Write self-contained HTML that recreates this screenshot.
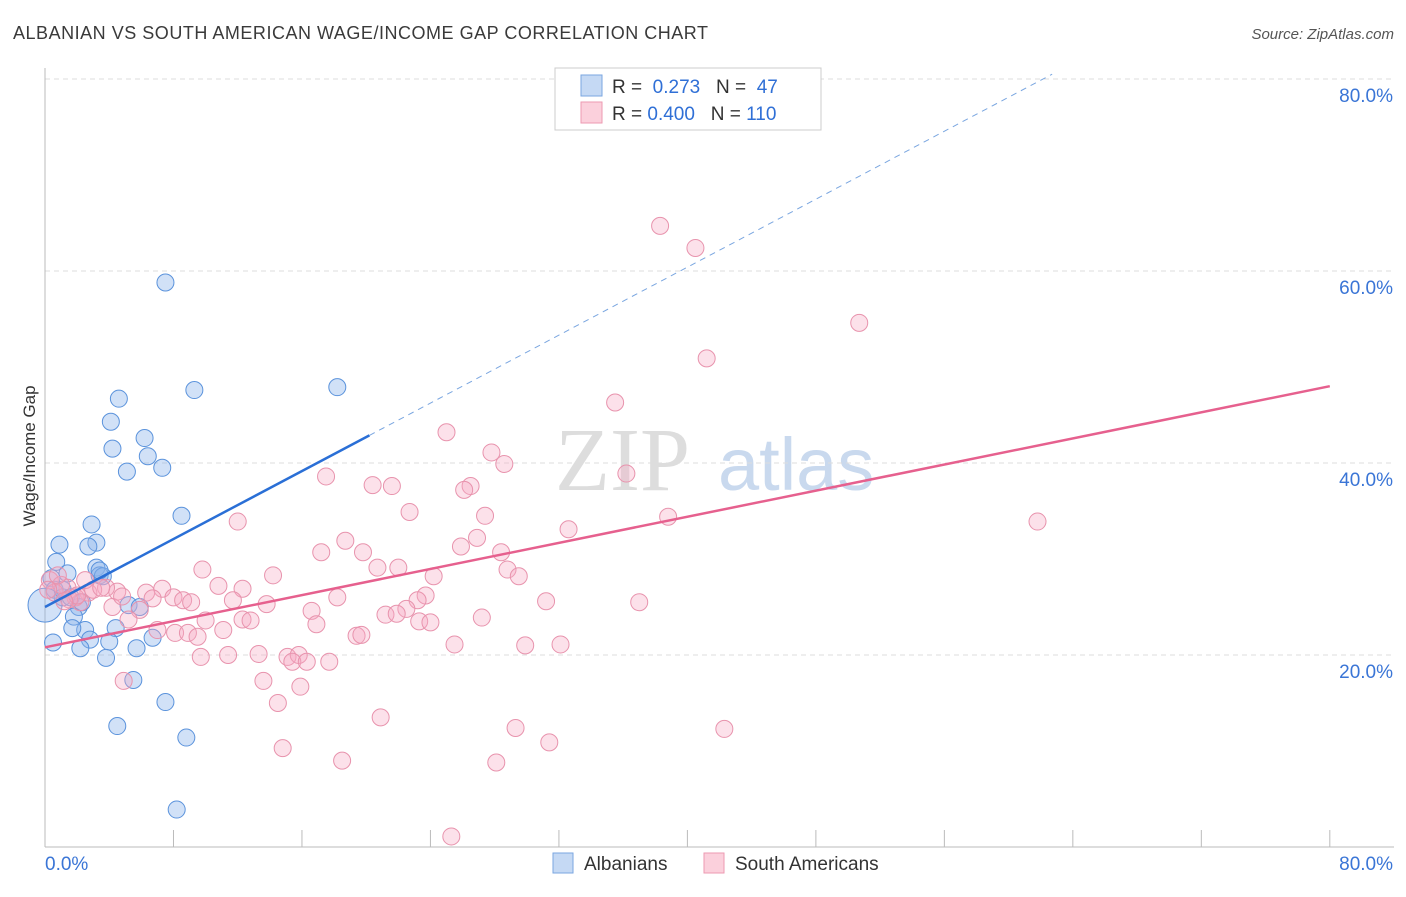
<!DOCTYPE html>
<html><head><meta charset="utf-8"><style>
body{margin:0;background:#fff;font-family:"Liberation Sans",sans-serif}
</style></head><body>
<svg width="1406" height="892" xmlns="http://www.w3.org/2000/svg">
<text x="13" y="39" font-size="18" fill="#3a3a3a" textLength="695">ALBANIAN VS SOUTH AMERICAN WAGE/INCOME GAP CORRELATION CHART</text>
<text x="1394" y="39" font-size="15" fill="#555" text-anchor="end" font-style="italic">Source: ZipAtlas.com</text>
<text x="555" y="490" font-size="90" fill="#ddd" font-family="Liberation Serif">ZIP</text>
<text x="718" y="490" font-size="74" fill="#c9d9ee">atlas</text>
<g id="grid"></g>
<g id="axes"></g>
<g id="pts"></g>
<g id="lines"></g>
<text x="35" y="456" font-size="17" fill="#333" transform="rotate(-90 35 456)" text-anchor="middle">Wage/Income Gap</text>
<g>
<rect x="555" y="68" width="266" height="62" fill="#fff" stroke="#ccc"/>
<rect x="581" y="75" width="21" height="21" fill="#c5d9f4" stroke="#7aa6e0"/>
<rect x="581" y="102" width="21" height="21" fill="#fbd0dc" stroke="#ec9ab2"/>
<text x="612" y="93" font-size="19" fill="#333">R = <tspan fill="#2f6fd6">&#160;0.273</tspan>&#160;&#160;&#160;N = <tspan fill="#2f6fd6">&#160;47</tspan></text>
<text x="612" y="120" font-size="19" fill="#333">R = <tspan fill="#2f6fd6">0.400</tspan>&#160;&#160;&#160;N = <tspan fill="#2f6fd6">110</tspan></text>
</g>
<g>
<rect x="553" y="853" width="20" height="20" fill="#c5d9f4" stroke="#7aa6e0"/>
<text x="584" y="870" font-size="19" fill="#333">Albanians</text>
<rect x="704" y="853" width="20" height="20" fill="#fbd0dc" stroke="#ec9ab2"/>
<text x="735" y="870" font-size="19" fill="#333">South Americans</text>
</g>
</svg>
<script>
const blueX=[7.5,18.2,9.3,4.6,4.1,6.2,4.2,6.4,7.3,5.1,8.5,2.9,0.9,3.2,2.7,0.7,1.4,3.2,3.4,3.6,0.4,0.6,1.1,2.1,5.2,5.9,1.8,2.5,1.7,4.4,2.8,0.5,4.0,6.7,2.2,5.7,3.8,5.5,7.5,4.5,8.8,8.2,0.0,1.1,1.6,3.4,2.3];
const blueY=[58.8,47.9,47.6,46.7,44.3,42.6,41.5,40.7,39.5,39.1,34.5,33.6,31.5,31.7,31.3,29.7,28.5,29.1,28.3,28.2,28.0,26.8,26.0,25.0,25.2,25.0,24.0,22.6,22.8,22.8,21.6,21.3,21.4,21.8,20.7,20.7,19.7,17.4,15.1,12.6,11.4,3.9,25.2,26.8,26.0,28.8,25.5];
const pinkX=[38.3,40.5,50.7,41.2,35.5,25.0,27.8,28.6,36.2,17.5,26.5,26.1,20.4,21.6,22.7,27.4,38.8,61.8,12.0,32.6,26.9,18.7,25.9,17.2,19.8,28.4,20.7,22.0,9.8,14.2,24.2,28.8,29.5,7.3,10.8,12.3,4.5,6.3,2.7,1.4,2.5,0.3,3.8,8.0,6.7,8.6,9.1,11.7,13.8,18.2,23.7,23.2,31.2,37.0,4.2,5.9,16.6,22.5,21.2,21.9,5.2,10.0,12.3,12.8,16.9,23.3,24.0,27.2,7.0,8.1,8.9,9.5,11.1,19.4,19.7,25.5,29.9,32.1,9.7,11.4,13.3,15.1,15.8,15.4,16.3,17.7,4.9,13.6,15.9,14.5,20.9,29.3,42.3,31.4,14.8,18.5,28.1,25.3,0.6,1.0,1.9,2.2,3.0,0.8,1.5,3.5,2.0,0.2,1.2,4.8];
const pinkY=[64.7,62.4,54.6,50.9,46.3,43.2,41.1,39.9,38.9,38.6,37.6,37.2,37.7,37.6,34.9,34.5,34.4,33.9,33.9,33.1,32.2,31.9,31.3,30.7,30.7,30.7,29.1,29.1,28.9,28.3,28.2,28.9,28.2,26.9,27.2,26.9,26.6,26.5,26.5,27.0,27.8,27.8,27.0,26.0,25.9,25.7,25.5,25.7,25.3,26.0,26.2,25.7,25.6,25.5,25.0,24.7,24.6,24.8,24.2,24.3,23.7,23.6,23.7,23.6,23.2,23.5,23.4,23.9,22.6,22.3,22.3,21.9,22.6,22.0,22.1,21.1,21.0,21.1,19.8,20.0,20.1,19.8,20.0,19.3,19.3,19.3,17.3,17.3,16.7,15.0,13.5,12.4,12.3,10.9,10.3,9.0,8.8,1.1,26.5,27.3,26.0,25.5,26.8,28.3,25.8,27.0,26.2,26.8,25.6,26.1];
const yTicks=[20,40,60,80];
const xTickLabels=["0.0%","80.0%"];
const blueFit=[25.0,0.885];   // intercept, slope
const pinkFit=[20.8,0.34];
const NS="http://www.w3.org/2000/svg";
const X=v=>45+v*16.06, Y=v=>847-v*9.6;
function mk(t,a,p){const e=document.createElementNS(NS,t);for(const k in a)e.setAttribute(k,a[k]);p.appendChild(e);return e;}
const grid=document.getElementById('grid'),axes=document.getElementById('axes'),pts=document.getElementById('pts'),lines=document.getElementById('lines');
yTicks.forEach(t=>{
 const l=mk('line',{x1:45,x2:1394,y1:Y(t),y2:Y(t),stroke:'#ddd','stroke-dasharray':'5,4'},grid);
 
 
 const tx=mk('text',{x:1393,y:Y(t)+23,'font-size':19,fill:'#3a75d6','text-anchor':'end'},axes);
 tx.textContent=t.toFixed(1)+'%';
 
 
});
mk('line',{x1:45,x2:45,y1:68,y2:847,stroke:'#bbb'},axes);
mk('line',{x1:45,x2:1394,y1:847,y2:847,stroke:'#bbb'},axes);
for(let i=0;i<=10;i++){mk('line',{x1:X(i*8),x2:X(i*8),y1:830,y2:847,stroke:'#bbb'},axes);}
const xl0=mk('text',{x:45,y:870,'font-size':19,fill:'#3a75d6'},axes);xl0.textContent=xTickLabels[0];


const xl1=mk('text',{x:1393,y:870,'font-size':19,fill:'#3a75d6','text-anchor':'end'},axes);xl1.textContent=xTickLabels[1];


blueX.forEach((v,i)=>{const c=mk('circle',{cx:X(v),cy:Y(blueY[i]),r:i==42?17:8.5,fill:'rgba(140,180,235,0.4)',stroke:'#5b93dc','stroke-width':1},pts);
 
 });
pinkX.forEach((v,i)=>{const c=mk('circle',{cx:X(v),cy:Y(pinkY[i]),r:8.5,fill:'rgba(245,170,195,0.35)',stroke:'#e893ad','stroke-width':1},pts);
 
 });
const bl=mk('line',{x1:X(0),y1:Y(blueFit[0]),x2:X(20.2),y2:Y(blueFit[0]+blueFit[1]*20.2),stroke:'#2a6fd6','stroke-width':2.5},lines);


const xe=(80.5-blueFit[0])/blueFit[1];
const bd=mk('line',{x1:X(20.2),y1:Y(blueFit[0]+blueFit[1]*20.2),x2:X(xe),y2:Y(80.5),stroke:'#7aa6e0','stroke-width':1,'stroke-dasharray':'6,5'},lines);


const pl=mk('line',{x1:X(0),y1:Y(pinkFit[0]),x2:X(80),y2:Y(pinkFit[0]+pinkFit[1]*80),stroke:'#e6608e','stroke-width':2.5},lines);


</script>
</body></html>
